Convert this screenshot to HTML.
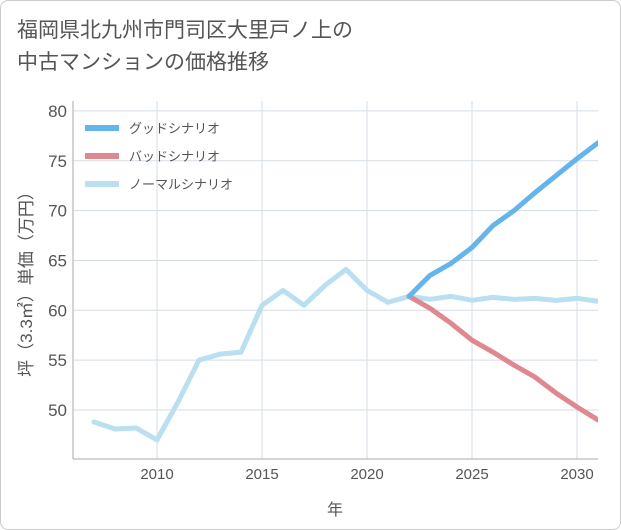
<!DOCTYPE html>
<html><head><meta charset="utf-8"><style>
body{margin:0;background:#fff;font-family:"Liberation Sans","Noto Sans CJK JP",sans-serif;}
#wrap{position:relative;width:621px;height:530px;box-sizing:border-box;border:1px solid #ccc;border-radius:8px;overflow:hidden;background:#fff;}
#title{position:absolute;left:16px;top:14px;font-size:21px;line-height:32px;color:#555;}
svg text{font-family:"Liberation Sans","Noto Sans CJK JP",sans-serif;}
</style></head><body>
<div id="wrap">
<div id="title">福岡県北九州市門司区大里戸ノ上の<br>中古マンションの価格推移</div>
<svg id="chart" width="621" height="530" style="position:absolute;left:0;top:0"><defs><clipPath id="clip"><rect x="72" y="100" width="525" height="358"/></clipPath></defs></svg>
</div>
<script>
const years=[2007,2008,2009,2010,2011,2012,2013,2014,2015,2016,2017,2018,2019,2020,2021,2022,2023,2024,2025,2026,2027,2028,2029,2030,2031];
const normal=[48.8,48.1,48.2,47.0,50.8,55.0,55.6,55.8,60.5,62.0,60.5,62.5,64.1,62.0,60.8,61.4,61.1,61.4,61.0,61.3,61.1,61.2,61.0,61.2,60.9];
const goodYears=[2022,2023,2024,2025,2026,2027,2028,2029,2030,2031];
const good=[61.4,63.5,64.7,66.3,68.5,70.0,71.8,73.5,75.2,76.8];
const bad=[61.4,60.2,58.7,57.0,55.8,54.5,53.3,51.7,50.3,49.0];
const xTicks=[2010,2015,2020,2025,2030];
const yTicks=[50,55,60,65,70,75,80];
const L=72,R=597,T=100,B=458;
const x=v=>L+(v-2006)*21;
const y=v=>409-(v-50)*9.97;
const NS="http://www.w3.org/2000/svg";
const svg=document.getElementById('chart');
function mk(t,a){const e=document.createElementNS(NS,t);for(const k in a)e.setAttribute(k,a[k]);svg.appendChild(e);return e;}
xTicks.forEach(t=>{const g=mk('line',{x1:x(t),x2:x(t),y1:T,y2:B,stroke:'#d5dde5'});


const l=mk('text',{x:x(t),y:B+20,'text-anchor':'middle','font-size':15,fill:'#555'});l.textContent=t;

});
yTicks.forEach(t=>{const g=mk('line',{x1:L,x2:R,y1:y(t),y2:y(t),stroke:'#d5dde5'});


const l=mk('text',{x:L-6,y:y(t)+6,'text-anchor':'end','font-size':17,fill:'#555'});l.textContent=t;

});
const ax=mk('line',{x1:L,x2:L,y1:T,y2:B,stroke:'#aaa'});


const ax2=mk('line',{x1:L,x2:R,y1:B,y2:B,stroke:'#aaa'});


const xt=mk('text',{x:334,y:514,'text-anchor':'middle','font-size':16,fill:'#555'});xt.textContent='年';


const yt=mk('text',{x:0,y:0,'text-anchor':'middle','font-size':17,fill:'#555',transform:'translate(31,279) rotate(-90)'});yt.textContent='坪（3.3㎡）単価（万円）';


function line(xs,vs,c,n){const p=mk('polyline',{points:xs.map((v,i)=>x(v)+','+y(vs[i])).join(' '),fill:'none',stroke:c,'stroke-width':5,'stroke-linejoin':'round','stroke-linecap':'round','clip-path':'url(#clip)'});

}
line(years,normal,'#b9dff0','normal-scenario-line');
line(goodYears,bad,'#e08890','bad-scenario-line');
line(goodYears,good,'#64b5ec','good-scenario-line');
const leg=[['グッドシナリオ','#64b5ec'],['バッドシナリオ','#e08890'],['ノーマルシナリオ','#b9dff0']];
leg.forEach((d,i)=>{const yy=127+i*28;
const s=mk('line',{x1:84,x2:118,y1:yy,y2:yy,stroke:d[1],'stroke-width':6});


const t=mk('text',{x:128,y:yy+5,'font-size':13,fill:'#555'});t.textContent=d[0];

});
</script>
</body></html>
